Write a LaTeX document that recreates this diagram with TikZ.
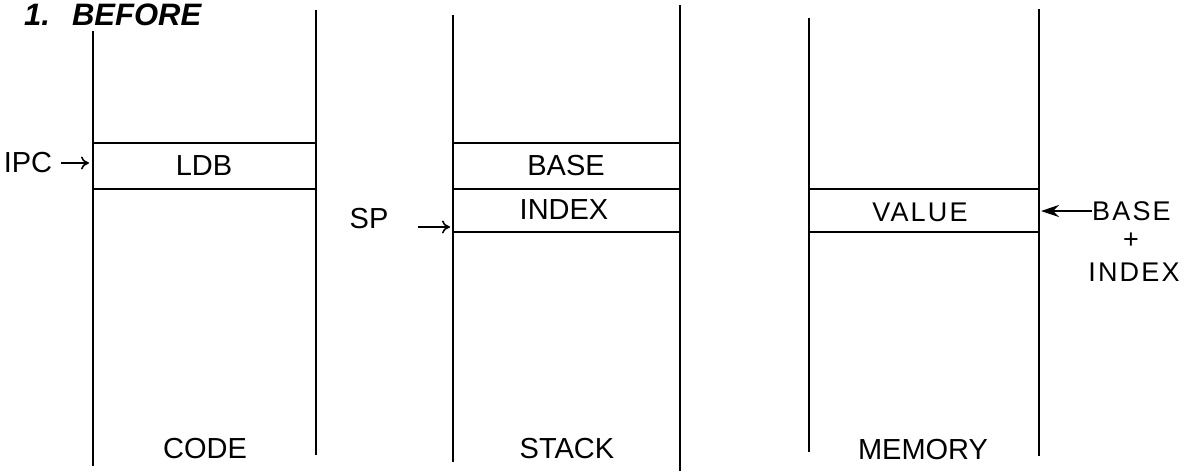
\documentclass[tikz,border=0pt]{standalone}
\usepackage{fontspec}
\setmainfont{Liberation Sans}
\usetikzlibrary{arrows.meta}
\begin{document}
\begin{tikzpicture}[x=1pt,y=-1pt,
  wall/.style={line width=1.8pt},
  cellline/.style={line width=2.8pt},
  lbl/.style={font=\fontsize{29}{32}\selectfont, inner sep=0pt},
  wlbl/.style={font=\fontsize{27}{30}\selectfont\addfontfeatures{LetterSpace=8}, inner sep=0pt},
  ptr/.style={line width=1.6pt, -{To[length=8pt,width=13pt,line width=1.6pt]}},
  bigptr/.style={line width=1.8pt, -{Stealth[length=18pt,width=12pt]}}]
\useasboundingbox (0,0) rectangle (1191,472);
\fill[white] (0,0) rectangle (1191,472);
% title
\node[anchor=base west, inner sep=0pt, font=\fontsize{31}{33}\selectfont\bfseries\itshape] (title) at (24,25) {1.\hspace{22pt}BEFORE};
% column walls
\coordinate (c1lt) at (93,31);  \coordinate (c1lb) at (93,466);
\coordinate (c1rt) at (316,10); \coordinate (c1rb) at (316,455);
\coordinate (c2lt) at (453,15); \coordinate (c2lb) at (453,462);
\coordinate (c2rt) at (680,5);  \coordinate (c2rb) at (680,471);
\coordinate (c3lt) at (809,18); \coordinate (c3lb) at (809,452);
\coordinate (c3rt) at (1039,9); \coordinate (c3rb) at (1039,456);
\foreach \c in {c1l,c1r,c2l,c2r,c3l,c3r}{\draw[wall] (\c t) -- (\c b);}
% cell boundaries
\draw[cellline] (93,143) -- (316,143);
\draw[cellline] (93,189) -- (316,189);
\draw[cellline] (453,143) -- (680,143);
\draw[cellline] (453,189) -- (680,189);
\draw[cellline] (453,232) -- (680,232);
\draw[cellline] (809,189) -- (1039,189);
\draw[cellline] (809,232) -- (1039,232);
% cell contents
\node[lbl] (ldb) at (204,166) {LDB};
\node[lbl] (base) at (566,166) {BASE};
\node[lbl] (index) at (564,210) {INDEX};
\node[wlbl] (value) at (920,212) {VALUE};
% column names
\node[lbl] (code) at (205,449) {CODE};
\node[lbl] (stack) at (567,449) {STACK};
\node[lbl] (memory) at (923,450) {MEMORY};
% pointers
\node[lbl] (ipc) at (28,163) {IPC};
\coordinate (ipcto) at (89,163);
\draw[ptr] ([xshift=9pt]ipc.east) -- (ipcto);
\node[lbl] (sp) at (369,219) {SP};
\coordinate (spfrom) at (418,227);
\coordinate (spto) at (450,227);
\draw[ptr] (spfrom) -- (spto);
\node[wlbl, anchor=west] (bsum) at (1092,211) {BASE};
\node[wlbl] (plus) at (1131,241) {+};
\node[wlbl] (isum) at (1134,272) {INDEX};
\coordinate (valto) at (1041,211);
\draw[bigptr] (bsum.west) -- (valto);
\end{tikzpicture}
\end{document}
